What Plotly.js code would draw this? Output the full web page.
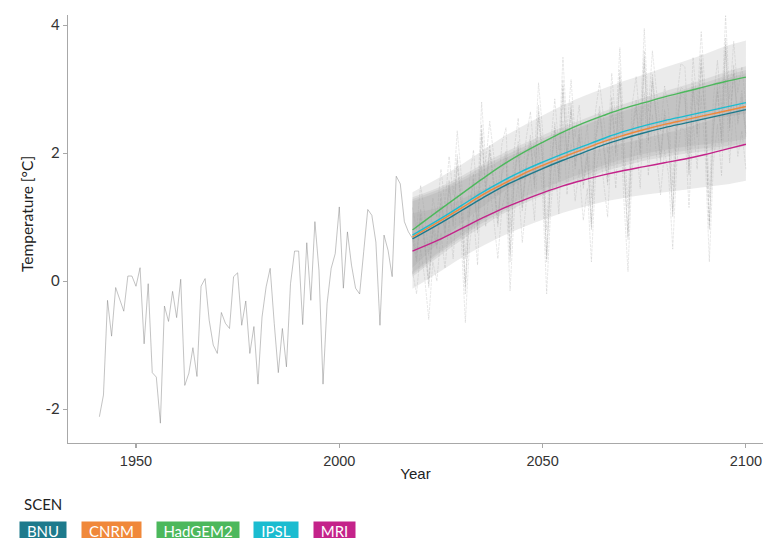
<!DOCTYPE html>
<html>
<head>
<meta charset="utf-8">
<script src="https://cdn.plot.ly/plotly-3.0.1.min.js"></script>
<style>html,body{margin:0;padding:0;background:#fff;}#chart{width:764px;height:538px;}</style>
</head>
<body>
<div id="chart"></div>
<script>
// ---------- DATA ----------
const histStart = 1941;
const histValues = [-2.12,-1.78,-0.30,-0.86,-0.10,-0.28,-0.47,0.08,0.08,-0.08,
  0.21,-0.98,-0.04,-1.43,-1.50,-2.22,-0.39,-0.63,-0.16,-0.57,
  0.03,-1.63,-1.44,-1.04,-1.49,-0.08,0.04,-0.61,-1.00,-1.13,
  -0.49,-0.66,-0.74,0.07,0.13,-0.69,-0.31,-1.13,-0.71,-1.61,
  -0.56,-0.09,0.20,-0.66,-1.43,-0.74,-1.34,-0.04,0.47,0.47,
  -0.68,0.60,-0.30,0.93,0.17,-1.61,-0.35,0.20,0.43,1.16,
  -0.11,0.77,0.25,-0.11,-0.20,0.46,1.12,1.03,0.61,-0.69,
  0.72,0.48,0.07,1.64,1.52,0.93,0.77,0.67];

const projStart = 2018;
const models = ["BNU","CNRM","HadGEM2","IPSL","MRI"];
const modelColors = ["#1d7a8c","#f0883a","#4cb85c","#1bbcd0","#c4238a"];

const projBNU = [0.65,0.30,1.00,0.55,-0.10,0.80,0.50,1.20,0.70,1.45,0.85,1.80,1.15,-0.20,1.05,1.55,0.75,2.25,1.35,2.00,1.45,0.85,1.65,1.90,0.30,1.55,2.05,1.10,1.75,2.15,1.45,2.55,1.85,0.30,1.65,2.35,1.55,2.95,1.85,2.65,1.75,2.25,1.45,1.95,0.80,2.15,2.60,2.05,1.50,2.70,1.95,3.10,1.75,0.65,2.25,2.70,1.95,3.40,2.15,3.10,2.45,1.85,2.55,2.15,1.00,2.35,2.90,2.85,1.65,3.00,2.25,3.35,2.45,0.80,2.35,2.95,2.15,3.60,2.35,3.25,2.45,2.85,2.25];
const projCNRM = [0.70,0.35,1.05,0.60,-0.05,0.85,0.55,1.30,0.75,1.50,0.90,1.90,1.20,-0.10,1.10,1.60,0.80,2.35,1.40,2.05,1.50,0.90,1.70,1.95,0.40,1.60,2.10,1.15,1.80,2.20,1.50,2.65,1.90,0.35,1.70,2.40,1.60,3.05,1.90,2.70,1.80,2.30,1.50,2.00,0.85,2.20,2.65,2.10,1.55,2.80,2.00,3.20,1.80,0.70,2.30,2.75,2.00,3.50,2.20,3.15,2.50,1.90,2.60,2.20,1.05,2.40,2.95,2.90,1.70,3.05,2.30,3.45,2.50,0.85,2.40,3.00,2.20,3.70,2.40,3.30,2.50,2.90,2.30];
const projHadGEM2 = [1.15,0.80,1.50,1.05,0.40,1.30,1.00,1.75,1.20,1.95,1.35,2.35,1.65,0.35,1.55,2.05,1.25,2.80,1.85,2.50,1.95,1.35,2.15,2.40,0.85,2.05,2.55,1.60,2.25,2.65,1.95,3.10,2.35,0.80,2.15,2.85,2.05,3.50,2.35,3.15,2.25,2.75,1.95,2.45,1.30,2.65,3.10,2.55,2.00,3.25,2.45,3.65,2.25,1.15,2.75,3.20,2.45,3.95,2.65,3.60,2.95,2.35,3.05,2.65,1.50,2.85,3.40,3.35,2.15,3.50,2.75,3.90,2.95,1.30,2.85,3.45,2.65,4.15,2.85,3.75,2.95,3.35,2.75];
const projIPSL = [0.78,0.43,1.13,0.68,0.03,0.93,0.63,1.38,0.83,1.58,0.98,1.98,1.28,-0.02,1.18,1.68,0.88,2.45,1.48,2.13,1.58,0.98,1.78,2.03,0.48,1.68,2.18,1.23,1.88,2.28,1.58,2.75,1.98,0.43,1.78,2.48,1.68,3.15,1.98,2.78,1.88,2.38,1.58,2.08,0.93,2.28,2.73,2.18,1.63,2.88,2.08,3.30,1.88,0.78,2.38,2.83,2.08,3.60,2.28,3.23,2.58,1.98,2.68,2.28,1.13,2.48,3.03,2.98,1.78,3.13,2.38,3.55,2.58,0.93,2.48,3.08,2.28,3.80,2.48,3.38,2.58,2.98,2.38];
const projMRI = [0.15,-0.20,0.50,0.05,-0.60,0.30,0.00,0.75,0.20,0.95,0.35,1.35,0.65,-0.65,0.55,1.05,0.25,1.80,0.85,1.50,0.95,0.35,1.15,1.40,-0.15,1.05,1.55,0.60,1.25,1.65,0.95,2.10,1.35,-0.20,1.15,1.85,1.05,2.50,1.35,2.15,1.25,1.75,0.95,1.45,0.30,1.65,2.10,1.55,1.00,2.25,1.45,2.65,1.25,0.15,1.75,2.20,1.45,2.95,1.65,2.60,1.95,1.35,2.05,1.65,0.50,1.85,2.40,2.35,1.15,2.50,1.75,2.90,1.95,0.30,1.85,2.45,1.65,3.15,1.85,2.75,1.95,2.35,1.75];

// smoothed trend per model, read at knot years
const smoothYears = [2018,2025,2030,2035,2040,2045,2050,2055,2060,2065,2070,2075,2080,2085,2090,2095,2100];
const smoothBNU     = [0.66,0.91,1.10,1.29,1.47,1.62,1.76,1.89,2.01,2.13,2.23,2.32,2.40,2.47,2.54,2.61,2.68];
const smoothCNRM    = [0.69,0.95,1.14,1.34,1.51,1.67,1.81,1.94,2.06,2.18,2.28,2.37,2.45,2.52,2.59,2.66,2.73];
const smoothHadGEM2 = [0.80,1.13,1.36,1.59,1.81,2.00,2.17,2.33,2.47,2.59,2.70,2.79,2.88,2.96,3.04,3.12,3.19];
const smoothIPSL    = [0.72,0.98,1.18,1.38,1.56,1.72,1.86,1.99,2.11,2.23,2.34,2.43,2.51,2.58,2.65,2.72,2.79];
const smoothMRI     = [0.47,0.66,0.82,0.98,1.13,1.26,1.38,1.49,1.58,1.66,1.73,1.79,1.85,1.91,1.98,2.06,2.14];
// confidence half-width of the smooth at knot years
const smoothSE = [0.59,0.50,0.46,0.44,0.43,0.42,0.42,0.42,0.42,0.42,0.43,0.44,0.46,0.48,0.51,0.55,0.57];

const xTicks = [1950,2000,2050,2100];
const yTicks = [-2,0,2,4];

// ---------- BUILD ----------
const projSeries = [projBNU,projCNRM,projHadGEM2,projIPSL,projMRI];
const smoothSeries = [smoothBNU,smoothCNRM,smoothHadGEM2,smoothIPSL,smoothMRI];
const histYears = histValues.map((_,i)=>histStart+i);
const projYears = projBNU.map((_,i)=>projStart+i);

const traces = [];
traces.push({x:histYears,y:histValues,type:'scatter',mode:'lines',
  line:{color:'rgba(120,120,120,0.75)',width:0.6},hoverinfo:'skip',showlegend:false});
projSeries.forEach(s=>{
  traces.push({x:projYears,y:s,type:'scatter',mode:'lines',
    line:{color:'rgba(110,110,110,0.32)',width:0.5,dash:'3px,1px'},hoverinfo:'skip',showlegend:false});
});
smoothSeries.forEach(s=>{
  traces.push({x:smoothYears,y:s.map((v,i)=>v+smoothSE[i]),type:'scatter',mode:'lines',
    line:{width:0,shape:'spline'},hoverinfo:'skip',showlegend:false});
  traces.push({x:smoothYears,y:s.map((v,i)=>v-smoothSE[i]),type:'scatter',mode:'lines',
    line:{width:0,shape:'spline'},fill:'tonexty',fillcolor:'rgba(153,153,153,0.2)',
    hoverinfo:'skip',showlegend:false});
});
smoothSeries.forEach((s,k)=>{
  traces.push({x:smoothYears,y:s,type:'scatter',mode:'lines',name:models[k],
    line:{color:modelColors[k],width:1.4,shape:'spline',smoothing:1.1},hoverinfo:'skip',showlegend:false});
});

// ---------- LAYOUT ----------
const M = {l:68,r:1,t:15,b:95};
const W = 764, H = 538;
const pw = W-M.l-M.r, ph = H-M.t-M.b;
const px2x = p => (p-M.l)/pw;
const px2y = p => (H-M.b-p)/ph;

const legendLeft = [19,81,156,253,313];
const legendWidth = [46,59,82,44,41];
const annotations = [{
  text:'SCEN',xref:'paper',yref:'paper',x:px2x(22),y:px2y(504),xanchor:'left',yanchor:'middle',
  showarrow:false,font:{family:'Lato, sans-serif',size:15,color:'#222'}
},{
  text:'Temperature [°C]',xref:'paper',yref:'paper',x:px2x(27),y:px2y(214),xanchor:'center',yanchor:'middle',
  textangle:-90,showarrow:false,font:{family:'Lato, sans-serif',size:15.5,color:'#222'}
}];
models.forEach((m,k)=>{
  annotations.push({text:m,xref:'paper',yref:'paper',
    x:px2x(legendLeft[k]),y:px2y(521),xanchor:'left',yanchor:'top',
    width:legendWidth[k],height:17,align:'center',valign:'middle',
    bgcolor:modelColors[k],borderpad:0,showarrow:false,
    font:{family:'Lato, sans-serif',size:15,color:'#ffffff'}});
});

const axisCommon = {showline:true,linecolor:'#a8a8a8',linewidth:1.3,ticks:'outside',ticklen:4,
  tickcolor:'#a8a8a8',tickwidth:1.1,showgrid:false,zeroline:false};

const layout = {
  width:W,height:H,margin:M,paper_bgcolor:'#fff',plot_bgcolor:'#fff',showlegend:false,
  xaxis:Object.assign({},axisCommon,{range:[1933.28,2104.2],tickvals:xTicks,ticktext:xTicks.map(String),
    tickfont:{family:'Liberation Sans Narrow, sans-serif',size:14.5,color:'#333'},
    title:{text:'Year',font:{family:'Liberation Sans Narrow, sans-serif',size:15,color:'#222'},standoff:0}}),
  yaxis:Object.assign({},axisCommon,{range:[-2.53,4.16],tickvals:yTicks,ticktext:yTicks.map(String),
    tickfont:{family:'Lato, sans-serif',size:15,color:'#333'}}),
  annotations:annotations
};

Plotly.newPlot('chart',traces,layout,{staticPlot:true,displayModeBar:false});
</script>
</body>
</html>
